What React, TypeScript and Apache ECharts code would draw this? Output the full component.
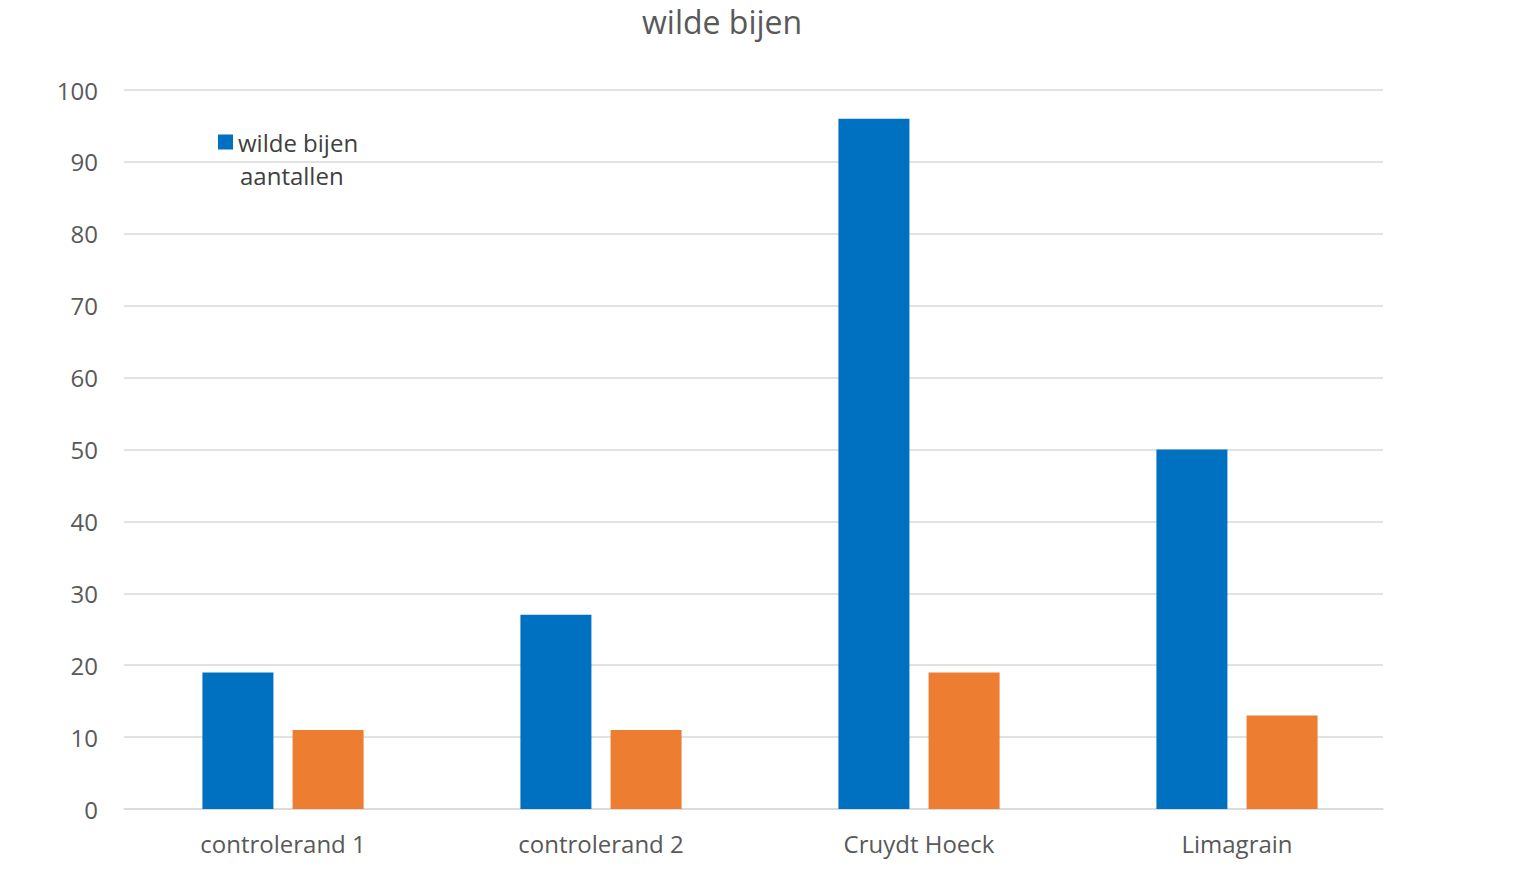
import { useEffect, useRef } from "react"
import * as echarts from "echarts"

const categories = ["controlerand 1", "controlerand 2", "Cruydt Hoeck", "Limagrain"]
const wildeBijen = [19, 27, 96, 50]
const tweedeReeks = [11, 11, 19, 13]
const yTicks = { min: 0, max: 100, interval: 10 }

export default function App() {
    const chartRef = useRef<HTMLDivElement>(null)

    useEffect(() => {
        if (!chartRef.current) return
        document.body.style.margin = "0"
        const chart = echarts.init(chartRef.current, undefined, { renderer: "svg" })

        const font = "'Open Sans', 'Noto Sans', sans-serif"

        chart.setOption({
            animation: false,
            title: {
                text: "wilde bijen",
                left: 637,
                top: 0,
                textStyle: { fontFamily: font, fontSize: 32, fontWeight: "normal", color: "#595959" },
            },
            legend: {
                data: ["wilde bijen aantallen"],
                left: 213,
                top: 122,
                itemWidth: 15,
                itemHeight: 15,
                icon: "rect",
                formatter: () => "wilde bijen",
                textStyle: { fontFamily: font, fontSize: 24, color: "#404040", lineHeight: 30 },
            },
            graphic: [
                {
                    // second line of the legend label
                    type: "text",
                    left: 240,
                    top: 163,
                    style: { text: "aantallen", font: `24px ${font}`, fill: "#404040" },
                },
            ],
            grid: [
                // plot area with gridlines
                { left: 124, right: 150, top: 90, bottom: 70 },
                // band for the bars
                { left: 124, right: 137, top: 90, bottom: 70 },
            ],
            xAxis: [
                {
                    type: "category",
                    gridIndex: 0,
                    data: categories,
                    axisLine: { lineStyle: { color: "#d9d9d9", width: 1.5 } },
                    axisTick: { show: false },
                    axisLabel: { show: false },
                },
                {
                    type: "category",
                    gridIndex: 1,
                    data: categories,
                    axisLine: { show: false },
                    axisTick: { show: false },
                    axisLabel: { fontFamily: font, fontSize: 24, color: "#595959", margin: 22 },
                },
            ],
            yAxis: [
                {
                    type: "value",
                    gridIndex: 0,
                    min: yTicks.min,
                    max: yTicks.max,
                    interval: yTicks.interval,
                    axisLine: { show: false },
                    axisTick: { show: false },
                    splitLine: { lineStyle: { color: "#d9d9d9", width: 1.5 } },
                    axisLabel: { fontFamily: font, fontSize: 24, color: "#595959", margin: 26 },
                },
                {
                    type: "value",
                    gridIndex: 1,
                    min: yTicks.min,
                    max: yTicks.max,
                    interval: yTicks.interval,
                    axisLine: { show: false },
                    axisTick: { show: false },
                    splitLine: { show: false },
                    axisLabel: { show: false },
                },
            ],
            series: [
                {
                    name: "wilde bijen aantallen",
                    type: "bar",
                    xAxisIndex: 1,
                    yAxisIndex: 1,
                    data: wildeBijen,
                    barWidth: 71,
                    barGap: "27%",
                    itemStyle: { color: "#0070c0" },
                },
                {
                    name: "reeks 2",
                    type: "bar",
                    xAxisIndex: 1,
                    yAxisIndex: 1,
                    data: tweedeReeks,
                    barWidth: 71,
                    itemStyle: { color: "#ed7d31" },
                },
            ],
        })

        return () => {
            chart.dispose()
        }
    }, [])

    return <div ref={chartRef} style={{ width: 1533, height: 879 }} />
}
